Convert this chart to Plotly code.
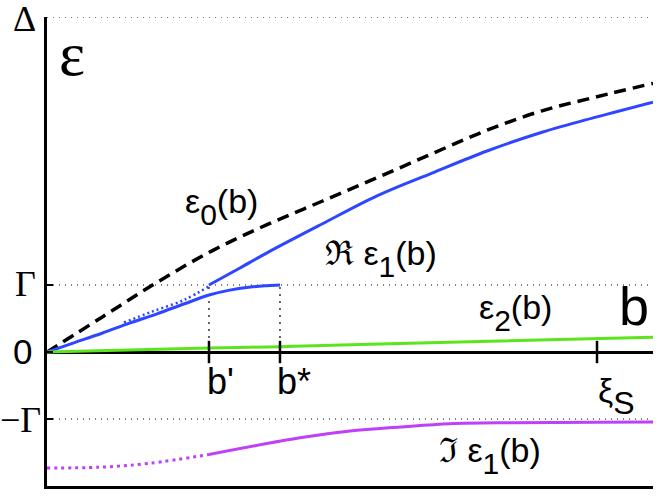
import plotly.graph_objects as go

# ── Levels / special points (units: Gamma = 1, xi_S = 1) ──────
GAMMA = 1.0
DELTA = 5.0
B_PRIME = 0.2945
B_STAR = 0.4236
XI_S = 1.0
B_MAX = 1.1018
Y_MIN = -2.0

# ── Curves ───────────────────────────
b_eps0 = [0, 0.1, 0.2, 0.3, 0.4, 0.5, 0.6, 0.7, 0.8, 0.9, 1.0, 1.1018]
eps0 = [0, 0.52, 1.04, 1.51, 1.90, 2.25, 2.60, 2.96, 3.31, 3.60, 3.81, 4.01]

b_re1_upper = [0.2945, 0.35, 0.4, 0.5, 0.6, 0.7, 0.8, 0.9, 1.0, 1.1018]
re1_upper = [1.0, 1.25, 1.48, 1.91, 2.33, 2.67, 3.00, 3.28, 3.51, 3.73]

b_re1_dotted = [0.14, 0.19, 0.25, 0.2945]
re1_dotted = [0.44, 0.60, 0.78, 0.98]

b_re1_lower = [0, 0.05, 0.10, 0.15, 0.20, 0.25, 0.2945, 0.33, 0.37, 0.40, 0.4236]
re1_lower = [0, 0.14, 0.28, 0.43, 0.57, 0.72, 0.85, 0.92, 0.97, 0.99, 1.0]

b_eps2 = [0, 0.2945, 0.4236, 0.605, 1.1018]
eps2 = [0, 0.06, 0.08, 0.12, 0.22]

b_im1_dotted = [0, 0.095, 0.187, 0.2945]
im1_dotted = [-1.73, -1.72, -1.66, -1.53]

b_im1 = [0.2945, 0.46, 0.551, 0.642, 0.733, 0.85, 1.0, 1.1018]
im1 = [-1.53, -1.28, -1.18, -1.12, -1.07, -1.055, -1.048, -1.045]

x_ticks = [B_PRIME, B_STAR, XI_S]
y_ticks = [-GAMMA, 0, GAMMA, DELTA]

BLUE = "#2E46FF"
GREEN = "#5CE51C"
PURPLE = "#BF40F5"
SANS = "Liberation Sans, Arial, sans-serif"
SERIF = "Liberation Serif, Times New Roman, serif"

fig = go.Figure()

# dotted reference levels
for lvl in [DELTA, GAMMA, -GAMMA]:
    fig.add_trace(go.Scatter(
        x=[0, B_MAX], y=[lvl, lvl], mode="lines",
        line=dict(color="black", width=1.2, dash="1px,5px"),
    ))
# dotted drop lines at b' and b*
for xb in [B_PRIME, B_STAR]:
    fig.add_trace(go.Scatter(
        x=[xb, xb], y=[0, GAMMA], mode="lines",
        line=dict(color="black", width=1.2, dash="2px,5px"),
    ))

fig.add_trace(go.Scatter(x=b_eps0, y=eps0, mode="lines", line_shape="spline",
                         line=dict(color="black", width=3.5, dash="12px,7px")))
fig.add_trace(go.Scatter(x=b_re1_dotted, y=re1_dotted, mode="lines", line_shape="spline",
                         line=dict(color=BLUE, width=2.5, dash="2px,3px")))
fig.add_trace(go.Scatter(x=b_re1_lower, y=re1_lower, mode="lines", line_shape="spline",
                         line=dict(color=BLUE, width=3)))
fig.add_trace(go.Scatter(x=b_re1_upper, y=re1_upper, mode="lines", line_shape="spline",
                         line=dict(color=BLUE, width=3)))
fig.add_trace(go.Scatter(x=b_eps2, y=eps2, mode="lines", line_shape="spline",
                         line=dict(color=GREEN, width=3)))
fig.add_trace(go.Scatter(x=b_im1_dotted, y=im1_dotted, mode="lines", line_shape="spline",
                         line=dict(color=PURPLE, width=3, dash="3px,4px")))
fig.add_trace(go.Scatter(x=b_im1, y=im1, mode="lines", line_shape="spline",
                         line=dict(color=PURPLE, width=3)))

# ticks crossing the b axis
fig.add_trace(go.Scatter(
    x=x_ticks, y=[0] * len(x_ticks), mode="markers", cliponaxis=False,
    marker=dict(symbol="line-ns", size=16, line=dict(color="black", width=2.5)),
))


def sub(s, px=30):
    # large, well-lowered subscript
    return f'<sub><sub><span style="font-size:{px}px">{s}</span></sub></sub>'


# (text, px x, px y, family, size) -- positions in the 664x500 frame
annos = [
    ("Δ", 24, 19, SERIF, 36),
    ("Γ", 25, 284, SERIF, 36),
    ("0", 22, 351, SANS, 35),
    ("−Γ", 20, 420, SERIF, 36),
    ("ε", 72, 54, SERIF, 62),
    ("b", 634, 306, SANS, 54),
    ("b'", 220, 381, SANS, 36),
    ("b*", 294, 381, SANS, 36),
    ("ξ" + sub("S", 32), 616, 396, SANS, 34),
    ("ε" + sub("0") + "(b)", 221, 206, SANS, 34),
    ("ℜ ε" + sub("1") + "(b)", 381, 258, SANS, 34),
    ("ε" + sub("2") + "(b)", 515, 313, SANS, 34),
    ("ℑ ε" + sub("1") + "(b)", 490, 455, SANS, 34),
]
for text, ax, ay, fam, size in annos:
    fig.add_annotation(x=(ax - 47) / 606, y=(486 - ay) / 469,
                       xref="paper", yref="paper",
                       text=text, showarrow=False,
                       xanchor="center", yanchor="middle",
                       font=dict(family=fam, size=size, color="black"))

fig.update_layout(
    width=664, height=500,
    margin=dict(l=47, r=11, t=17, b=14),
    paper_bgcolor="white", plot_bgcolor="white",
    showlegend=False, hovermode=False,
    xaxis=dict(range=[0, B_MAX], showgrid=False, zeroline=False,
               showline=True, linecolor="black", linewidth=3,
               showticklabels=False, ticks=""),
    yaxis=dict(range=[Y_MIN, DELTA], showgrid=False,
               zeroline=True, zerolinecolor="black", zerolinewidth=3,
               showline=True, linecolor="black", linewidth=3,
               tickvals=y_ticks, ticks="inside", ticklen=6, tickwidth=2,
               tickcolor="black", showticklabels=False),
)

fig.write_html("out.html", config={"staticPlot": True},
               post_script="document.body.style.margin='0';document.body.style.overflow='hidden';")
